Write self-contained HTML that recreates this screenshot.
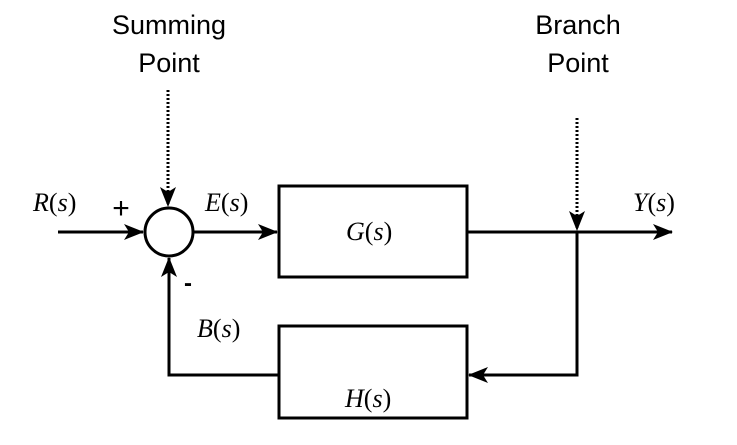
<!DOCTYPE html>
<html><head><style>body{margin:0;background:#fff}</style></head><body>
<svg width="737" height="440" xmlns="http://www.w3.org/2000/svg">
<defs>
<marker id="b" markerWidth="20" markerHeight="16" refX="19" refY="8" orient="auto" markerUnits="userSpaceOnUse">
<path d="M0,0 L20,8 L0,16 L5,8 Z" fill="#000"/></marker>
</defs>
<g font-family="Liberation Sans, sans-serif" font-size="27" text-anchor="middle" fill="#000">
<text x="169" y="34">Summing</text><text x="169" y="72">Point</text>
<text x="578" y="34">Branch</text><text x="578" y="72">Point</text>
</g>
<g stroke="#000" stroke-width="3" fill="none">
<line x1="168" y1="90" x2="168" y2="206" stroke-dasharray="2,2" marker-end="url(#b)"/>
<line x1="577" y1="118" x2="577" y2="230" stroke-dasharray="2,2" marker-end="url(#b)"/>
<line x1="58" y1="232" x2="143" y2="232" marker-end="url(#b)"/>
<circle cx="169" cy="232" r="24"/>
<line x1="193" y1="232" x2="277" y2="232" marker-end="url(#b)"/>
<rect x="279" y="186" width="188" height="91"/>
<rect x="279" y="326" width="188" height="92"/>
<line x1="467" y1="232" x2="672" y2="232" marker-end="url(#b)"/>
<polyline points="577,232 577,375 469,375" marker-end="url(#b)"/>
<polyline points="279,375 169,375 169,258" marker-end="url(#b)"/>
</g>
<g font-family="Liberation Serif, serif" font-size="26" fill="#000">
<text x="33" y="211"><tspan font-style="italic">R</tspan>(<tspan font-style="italic">s</tspan>)</text>
<text x="205" y="211"><tspan font-style="italic">E</tspan>(<tspan font-style="italic">s</tspan>)</text>
<text x="346" y="240"><tspan font-style="italic">G</tspan>(<tspan font-style="italic">s</tspan>)</text>
<text x="633" y="211"><tspan font-style="italic">Y</tspan>(<tspan font-style="italic">s</tspan>)</text>
<text x="197" y="337"><tspan font-style="italic">B</tspan>(<tspan font-style="italic">s</tspan>)</text>
<text x="345" y="407"><tspan font-style="italic">H</tspan>(<tspan font-style="italic">s</tspan>)</text>
</g>
<text x="121" y="218" font-family="Liberation Sans, sans-serif" font-size="30" text-anchor="middle">+</text>
<text x="184" y="291" font-family="Liberation Sans, sans-serif" font-size="24" font-weight="bold">-</text>
</svg>
</body></html>
